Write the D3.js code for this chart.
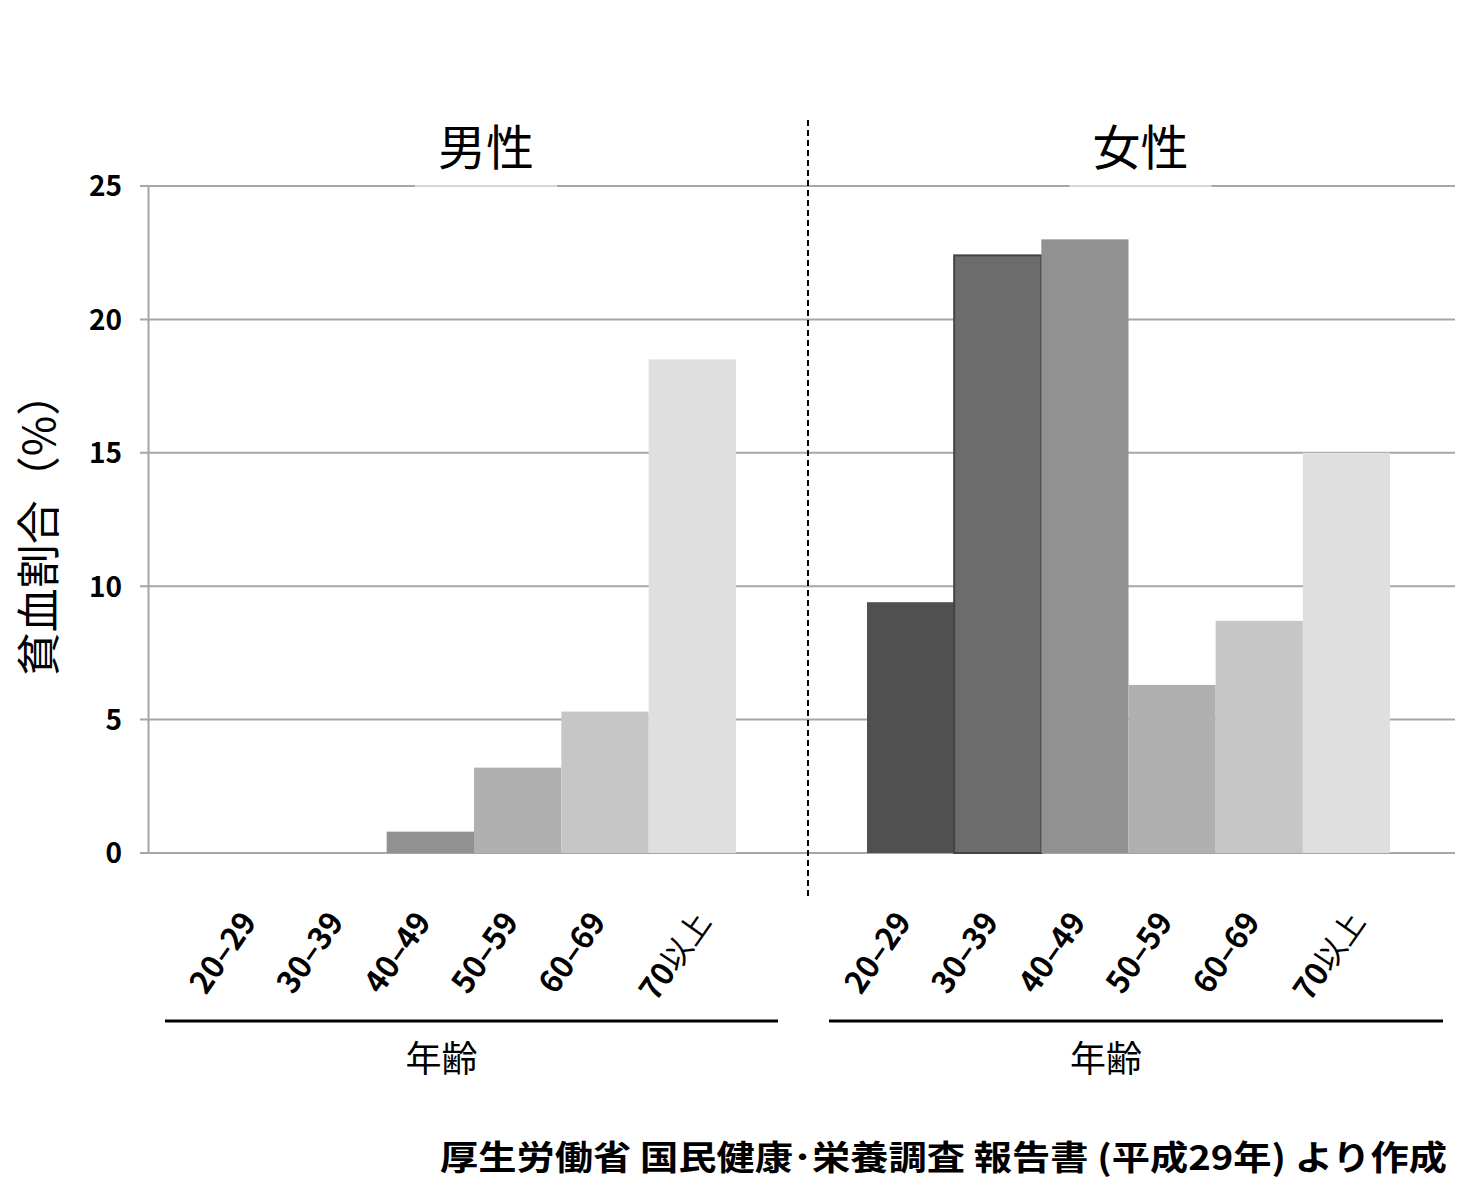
<!DOCTYPE html>
<html lang="ja">
<head>
    <meta charset="UTF-8">
    <title>貧血割合</title>
    <style>
        body {
            margin: 0;
            padding: 0;
            background: #fff;
            overflow: hidden;
        }

        text {
            font-family: "Noto Sans CJK JP", sans-serif;
            fill: #000;
        }

        .grid line {
            stroke: #a6a6a6;
            stroke-width: 2px;
        }

        .ytick text {
            font-size: 28px;
            font-weight: bold;
        }

        .xtick text {
            font-size: 31px;
            font-weight: bold;
        }

        .xtick tspan.kanji {
            font-weight: normal;
        }
    </style>
</head>
<body>
    <script src="https://d3js.org/d3.v7.min.js"></script>
    <script>
        // data
        const ageGroups = ["20–29", "30–39", "40–49", "50–59", "60–69", "70以上"];
        const maleValues = [0, 0, 0.8, 3.2, 5.3, 18.5];
        const femaleValues = [9.4, 22.4, 23.0, 6.3, 8.7, 15.0];
        const yTicks = [0, 5, 10, 15, 20, 25];
        const panelTitles = ["男性", "女性"];
        const xAxisTitle = "年齢";
        const yAxisTitle = "貧血割合（%）";
        const sourceNote = "厚生労働省 国民健康･栄養調査 報告書 (平成29年) より作成";

        const width = 1467;
        const height = 1188;

        const svg = d3.select("body").append("svg")
            .attr("width", width)
            .attr("height", height);

        const y = d3.scaleLinear()
            .domain([0, 25])
            .range([853, 186]);

        const color = d3.scaleOrdinal()
            .domain(ageGroups)
            .range(["#505050", "#6c6c6c", "#919191", "#b0b0b0", "#c6c6c6", "#dfdfdf"]);

        const panels = [
            { title: panelTitles[0], values: maleValues, range: [212, 736], line: [165, 778] },
            { title: panelTitles[1], values: femaleValues, range: [867, 1390], line: [829, 1443] }
        ];

        // gridlines
        svg.append("g")
            .attr("class", "grid")
            .selectAll("line")
            .data(yTicks)
            .enter().append("line")
            .attr("x1", 140)
            .attr("x2", 1455)
            .attr("y1", d => y(d))
            .attr("y2", d => y(d));

        // y axis
        const yAxis = svg.append("g")
            .attr("class", "ytick")
            .attr("transform", "translate(148,0)")
            .call(d3.axisLeft(y).tickValues(yTicks).tickSize(0).tickPadding(26));
        yAxis.select(".domain")
            .attr("stroke", "#a6a6a6")
            .attr("stroke-width", 2);
        yAxis.selectAll("text")
            .attr("dy", "0.35em");

        svg.append("text")
            .attr("transform", "translate(36,524) rotate(-90)")
            .attr("text-anchor", "middle")
            .attr("dominant-baseline", "central")
            .attr("font-size", 44)
            .text(yAxisTitle);

        panels.forEach(p => {
            const x = d3.scaleBand()
                .domain(ageGroups)
                .range(p.range)
                .padding(0);

            const rows = ageGroups.map((a, i) => ({ age: a, value: p.values[i] }));

            svg.append("g")
                .selectAll("rect")
                .data(rows.filter(d => d.value > 0))
                .enter().append("rect")
                .attr("x", d => x(d.age))
                .attr("y", d => y(d.value))
                .attr("width", x.bandwidth())
                .attr("height", d => y(0) - y(d.value))
                .attr("fill", d => color(d.age))
                .attr("stroke", d => d.age === ageGroups[1] ? "#444" : "none")
                .attr("stroke-width", 2);

            // panel title with white patch over top gridline
            const cx = (p.range[0] + p.range[1]) / 2 + 12;
            svg.append("rect")
                .attr("x", cx - 71)
                .attr("y", 110)
                .attr("width", 142)
                .attr("height", 77)
                .attr("fill", "#fff")
                .attr("fill-opacity", 0.55);
            svg.append("text")
                .attr("x", cx)
                .attr("y", 165)
                .attr("text-anchor", "middle")
                .attr("font-size", 48)
                .text(p.title);

            // rotated tick labels (kanji part set in normal weight)
            svg.append("g")
                .attr("class", "xtick")
                .selectAll("text")
                .data(ageGroups)
                .enter().append("text")
                .attr("text-anchor", "end")
                .attr("transform", d => {
                    const shift = /[^\x00-\u2100]/.test(d) ? 20 : 2;
                    return `translate(${x(d) + x.bandwidth() / 2 + shift},922) rotate(-55)`;
                })
                .each(function (d) {
                    const m = d.match(/^([^\u3000-\u9fff]*)(.*)$/);
                    const t = d3.select(this);
                    t.append("tspan").text(m[1]);
                    if (m[2]) t.append("tspan").attr("class", "kanji").text(m[2]);
                });

            svg.append("line")
                .attr("x1", p.line[0])
                .attr("x2", p.line[1])
                .attr("y1", 1021)
                .attr("y2", 1021)
                .attr("stroke", "#000")
                .attr("stroke-width", 3);

            svg.append("text")
                .attr("x", (p.line[0] + p.line[1]) / 2 - 30)
                .attr("y", 1072)
                .attr("text-anchor", "middle")
                .attr("font-size", 36)
                .text(xAxisTitle);
        });

        // divider between panels
        svg.append("line")
            .attr("x1", 808)
            .attr("x2", 808)
            .attr("y1", 120)
            .attr("y2", 900)
            .attr("stroke", "#000")
            .attr("stroke-width", 2)
            .attr("stroke-dasharray", "6,4");

        svg.append("text")
            .attr("x", 1447)
            .attr("y", 1170)
            .attr("text-anchor", "end")
            .attr("font-size", 34)
            .attr("font-weight", "bold")
            .attr("textLength", 1007)
            .attr("lengthAdjust", "spacingAndGlyphs")
            .text(sourceNote);
    </script>
</body>
</html>
